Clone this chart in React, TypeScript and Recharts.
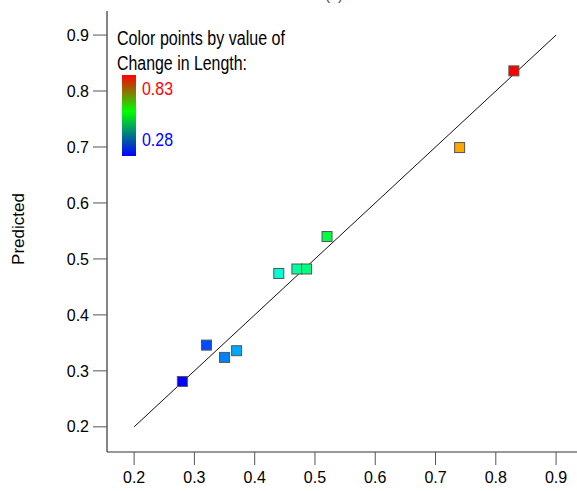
import React from "react";
import {
  ReferenceLine,
  Scatter,
  ScatterChart,
  XAxis,
  YAxis,
} from "recharts";

// actual vs predicted change in length
const actual = [0.28, 0.32, 0.35, 0.37, 0.44, 0.47, 0.486, 0.52, 0.74, 0.83];
const predicted = [0.281, 0.346, 0.324, 0.336, 0.474, 0.482, 0.482, 0.54, 0.699, 0.836];
const ticks = [0.2, 0.3, 0.4, 0.5, 0.6, 0.7, 0.8, 0.9];
const colorRange = [0.28, 0.83];
const fitLine = [0.2, 0.9];

const hueFor = (v: number) => {
  const t = (v - colorRange[0]) / (colorRange[1] - colorRange[0]);
  return `hsl(${240 * (1 - Math.min(1, Math.max(0, t)))}, 100%, 50%)`;
};

const points = actual.map((a, i) => ({ x: a, y: predicted[i], color: hueFor(a) }));

const font = "Arial, 'Liberation Sans', sans-serif";
const narrow = "'Liberation Sans Narrow', 'Arial Narrow', Arial, 'Liberation Sans', sans-serif";
const tick = { fill: "#000", fontSize: 16, fontFamily: font };

const Square = (props: any) => {
  const { cx, cy, payload } = props;
  if (cx == null || cy == null) return null;
  return (
    <rect
      x={cx - 5}
      y={cy - 5}
      width={10}
      height={10}
      fill={payload.color}
      stroke="#555"
      strokeWidth={1}
    />
  );
};

export default function App() {
  return (
    <div
      style={{
        position: "absolute",
        left: 0,
        top: 0,
        width: 577,
        height: 491,
        overflow: "hidden",
        background: "#fff",
      }}
    >
      <ScatterChart
        width={600}
        height={491}
        margin={{ top: 11, right: 18, bottom: 0, left: 0 }}
      >
        <XAxis
          type="number"
          dataKey="x"
          domain={[0.155, 0.943]}
          allowDataOverflow
          ticks={ticks}
          tickFormatter={(v) => Number(v).toFixed(1)}
          tick={tick}
          tickSize={13}
          tickMargin={7}
          height={39}
          axisLine={{ stroke: "#333", strokeWidth: 1.2 }}
          tickLine={{ stroke: "#555" }}
        />
        <XAxis
          xAxisId="top"
          orientation="top"
          type="number"
          domain={[0.155, 0.943]}
          tick={false}
          tickLine={false}
          height={0}
          axisLine={{ stroke: "#888", strokeWidth: 1.5 }}
        />
        <YAxis
          type="number"
          dataKey="y"
          domain={[0.155, 0.943]}
          allowDataOverflow
          ticks={ticks}
          tickFormatter={(v) => Number(v).toFixed(1)}
          tick={tick}
          tickSize={14}
          tickMargin={4}
          width={107}
          axisLine={{ stroke: "#333", strokeWidth: 1.2 }}
          tickLine={{ stroke: "#555" }}
        />
        <Scatter data={points} shape={Square} isAnimationActive={false} />
        <ReferenceLine
          segment={[
            { x: fitLine[0], y: fitLine[0] },
            { x: fitLine[1], y: fitLine[1] },
          ]}
          stroke="#111"
          strokeWidth={1}
        />
      </ScatterChart>

      <svg
        width={577}
        height={491}
        style={{ position: "absolute", left: 0, top: 0, pointerEvents: "none" }}
      >
        <defs>
          <linearGradient id="cbar" x1="0" y1="0" x2="0" y2="1">
            <stop offset="0" stopColor="#ff0000" />
            <stop offset="0.45" stopColor="#00ff00" />
            <stop offset="1" stopColor="#0000ff" />
          </linearGradient>
        </defs>
        <text x={334} y={0} textAnchor="middle" fontSize={16} fontFamily={font} fill="#555">
          (c)
        </text>
        <text
          x={18}
          y={229}
          transform="rotate(-90 18 229)"
          textAnchor="middle"
          dominantBaseline="central"
          fontSize={17}
          fontFamily={font}
          fill="#000"
        >
          Predicted
        </text>
        <text
          x={117}
          y={45}
          fontSize={20}
          fontFamily={narrow}
          textLength={168}
          lengthAdjust="spacingAndGlyphs"
          fill="#000"
        >
          Color points by value of
        </text>
        <text
          x={117}
          y={70}
          fontSize={20}
          fontFamily={narrow}
          textLength={130}
          lengthAdjust="spacingAndGlyphs"
          fill="#000"
        >
          Change in Length:
        </text>
        <rect x={122} y={75} width={14} height={81} fill="url(#cbar)" />
        <text
          x={142}
          y={95}
          fontSize={19}
          fontFamily={narrow}
          textLength={31}
          lengthAdjust="spacingAndGlyphs"
          fill="#ff0000"
        >
          {colorRange[1].toFixed(2)}
        </text>
        <text
          x={142}
          y={146}
          fontSize={19}
          fontFamily={narrow}
          textLength={31}
          lengthAdjust="spacingAndGlyphs"
          fill="#0000ff"
        >
          {colorRange[0].toFixed(2)}
        </text>
      </svg>
    </div>
  );
}
